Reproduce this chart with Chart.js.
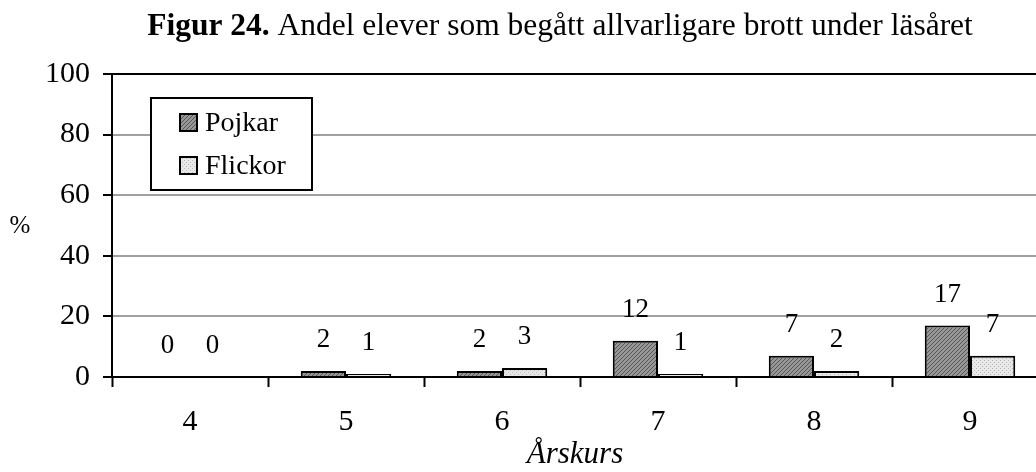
<!DOCTYPE html>
<html>
<head>
<meta charset="utf-8">
<script src="https://cdn.jsdelivr.net/npm/chart.js@4.4.1/dist/chart.umd.min.js"></script>
<style>
html,body{margin:0;padding:0;background:#fff;overflow:hidden;}
#wrap{width:1060px;height:472px;}
</style>
</head>
<body>
<div id="wrap"><canvas id="c" width="1060" height="472"></canvas></div>
<script>
const categories = ['4', '5', '6', '7', '8', '9'];
const pojkar = [0, 2, 2, 12, 7, 17];
const flickor = [0, 1, 3, 1, 2, 7];
const yTicks = [0, 20, 40, 60, 80, 100];
const titleBold = 'Figur 24.';
const titleRest = ' Andel elever som begått allvarligare brott under läsåret';
const xTitle = 'Årskurs';
const yTitle = '%';

const SERIF = '"Liberation Serif", "Times New Roman", serif';

function makePattern(kind) {
  const c = document.createElement('canvas');
  c.width = 4; c.height = 4;
  const g = c.getContext('2d');
  if (kind === 'dark') {
    g.fillStyle = '#979797'; g.fillRect(0, 0, 4, 4);
    g.fillStyle = '#555555';
    g.fillRect(3, 0, 1, 1); g.fillRect(2, 1, 1, 1); g.fillRect(1, 2, 1, 1); g.fillRect(0, 3, 1, 1);
  } else {
    g.fillStyle = '#e8e8e8'; g.fillRect(0, 0, 4, 4);
    g.fillStyle = '#b8b8b8';
    g.fillRect(0, 0, 1, 1); g.fillRect(2, 2, 1, 1);
  }
  return document.getElementById('c').getContext('2d').createPattern(c, 'repeat');
}
const darkFill = makePattern('dark');
const lightFill = makePattern('light');

const overlay = {
  id: 'overlay',
  afterDatasetsDraw(chart) {
    const ctx = chart.ctx;
    ctx.save();
    ctx.fillStyle = '#000';
    ctx.font = '27px ' + SERIF;
    ctx.textAlign = 'center';
    ctx.textBaseline = 'middle';
    chart.data.datasets.forEach((ds, i) => {
      chart.getDatasetMeta(i).data.forEach((el, j) => {
        ctx.fillText(String(ds.data[j]), el.x, el.y - 31);
      });
    });
    ctx.restore();
  },
  afterDraw(chart) {
    const ctx = chart.ctx;
    ctx.save();
    // title
    ctx.fillStyle = '#000';
    ctx.textBaseline = 'alphabetic';
    ctx.font = 'bold 31.5px ' + SERIF;
    const w1 = ctx.measureText(titleBold).width;
    ctx.font = '31.5px ' + SERIF;
    const w2 = ctx.measureText(titleRest).width;
    let x = 560 - (w1 + w2) / 2;
    ctx.textAlign = 'left';
    ctx.font = 'bold 31.5px ' + SERIF;
    ctx.fillText(titleBold, x, 35);
    ctx.font = '31.5px ' + SERIF;
    ctx.fillText(titleRest, x + w1, 35);
    // y title
    ctx.textAlign = 'center';
    ctx.textBaseline = 'middle';
    ctx.font = '25px ' + SERIF;
    ctx.fillText(yTitle, 20, 226);
    // x title
    ctx.font = 'italic 31px ' + SERIF;
    ctx.fillText(xTitle, 575, 455);
    // legend
    ctx.fillStyle = '#fff';
    ctx.fillRect(151, 98, 161, 92);
    ctx.strokeStyle = '#000';
    ctx.lineWidth = 2;
    ctx.strokeRect(151, 98, 161, 92);
    const items = [[chart.data.datasets[0], 123], [chart.data.datasets[1], 166]];
    items.forEach(([ds, yy]) => {
      ctx.fillStyle = ds.backgroundColor;
      ctx.fillRect(180, yy - 9, 17, 17);
      ctx.strokeRect(180, yy - 9, 17, 17);
      ctx.fillStyle = '#000';
      ctx.textAlign = 'left';
      ctx.font = '28px ' + SERIF;
      ctx.fillText(ds.label, 205, yy + 1);
    });
    ctx.restore();
  }
};

new Chart(document.getElementById('c'), {
  type: 'bar',
  data: {
    labels: categories,
    datasets: [
      { label: 'Pojkar', data: pojkar, backgroundColor: darkFill, borderColor: '#000', borderWidth: 2, borderSkipped: 'bottom' },
      { label: 'Flickor', data: flickor, backgroundColor: lightFill, borderColor: '#000', borderWidth: 2, borderSkipped: 'bottom' }
    ]
  },
  options: {
    responsive: false,
    animation: false,
    devicePixelRatio: 1,
    layout: { padding: { left: 0, top: 74, right: 12, bottom: 0 } },
    datasets: { bar: { categoryPercentage: 0.58, barPercentage: 1.0 } },
    plugins: { legend: { display: false }, tooltip: { enabled: false }, title: { display: false } },
    scales: {
      x: {
        type: 'category',
        grid: { offset: true, drawOnChartArea: false, drawTicks: true, tickLength: 10, tickColor: '#000', tickWidth: 2 },
        border: { display: true, color: '#000', width: 2 },
        ticks: { color: '#000', font: { family: SERIF, size: 30 }, padding: 17 },
        afterFit(scale) { scale.height = 95; }
      },
      y: {
        min: 0, max: 100,
        afterBuildTicks(scale) { scale.ticks = yTicks.map(v => ({ value: v })); },
        grid: {
          color: (c) => (c.tick && c.tick.value === 100 ? '#000' : '#a0a0a0'),
          lineWidth: 2,
          drawTicks: true, tickLength: 9, tickColor: '#000', tickWidth: 2
        },
        border: { display: true, color: '#000', width: 2 },
        ticks: { color: '#000', font: { family: SERIF, size: 30 }, padding: 13 },
        afterFit(scale) { scale.width = 112; }
      }
    }
  },
  plugins: [overlay]
});
</script>
</body>
</html>
